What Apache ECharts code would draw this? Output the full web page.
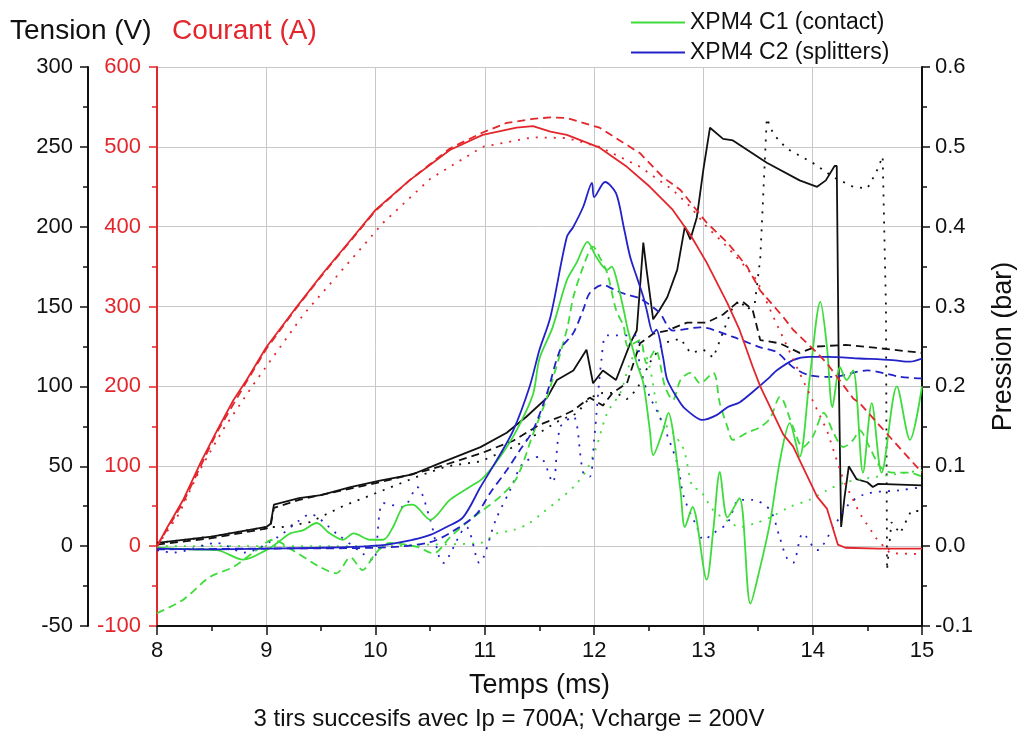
<!DOCTYPE html>
<html>
<head>
<meta charset="utf-8">
<script src="https://cdn.jsdelivr.net/npm/echarts@6/dist/echarts.min.js"></script>
<style>
  html, body { margin: 0; padding: 0; background: #fff; }
  #chart { width: 1018px; height: 738px; }
</style>
</head>
<body>
<div id="chart"></div>
<script>
// courant (A)
const courant1 = [[8,0],[8.1,25],[8.24,58],[8.4,105],[8.55,145],[8.7,183],[8.82,208],[9.0,249],[9.28,300],[9.52,342],[9.77,383],[10.0,421],[10.31,458],[10.68,496],[10.98,515],[11.29,524],[11.44,526],[11.6,519],[11.75,515],[12.05,499],[12.3,475],[12.51,450],[12.72,421],[12.88,390],[13.03,355],[13.22,304],[13.33,271],[13.45,225],[13.52,200],[13.73,140],[13.82,125],[14.04,62],[14.13,47],[14.23,2],[14.3,-2],[14.6,-3],[15,-3]];
const courant2 = [[8,0],[8.24,55],[8.55,143],[8.82,206],[9.0,247],[9.28,299],[9.52,341],[9.77,382],[10.0,420],[10.31,458],[10.68,498],[10.98,518],[11.2,530],[11.44,535],[11.6,537],[11.75,536],[12.05,524],[12.42,492],[12.63,462],[12.79,446],[13.03,405],[13.22,380],[13.4,350],[13.52,320],[13.73,287],[13.82,271],[14.04,242],[14.13,229],[14.37,185],[14.43,179],[14.73,133],[15,92]];
const courant3 = [[8,0],[8.2,40],[8.39,95],[8.6,145],[8.88,202],[9.34,290],[10.07,405],[10.5,460],[10.98,500],[11.44,512],[11.75,511],[12.05,500],[12.42,475],[12.72,446],[12.88,425],[13.03,400],[13.18,380],[13.33,358],[13.49,333],[13.64,287],[13.91,208],[14.13,145],[14.28,83],[14.43,41],[14.59,8],[14.71,-9],[15,-10]];

// tension (V)
const tension1 = [[8,2],[8.5,6],[9.0,12],[9.04,14],[9.07,26],[9.3,30],[9.5,32],[9.77,37],[10.04,41],[10.34,45],[10.59,52],[10.96,62],[11.2,71],[11.38,81],[11.57,93],[11.66,104],[11.81,110],[11.93,123],[11.99,102],[12.08,110],[12.2,104],[12.33,127],[12.39,135],[12.45,190],[12.48,173],[12.54,142],[12.6,148],[12.67,156],[12.76,173],[12.83,200],[12.88,192],[12.94,206],[13.0,236],[13.06,262],[13.18,255],[13.27,254],[13.58,240],[13.88,229],[14.04,225],[14.12,229],[14.2,238],[14.22,238],[14.24,100],[14.26,12],[14.29,30],[14.33,50],[14.4,42],[14.5,40],[14.55,37],[14.6,39],[15,38]];
const tension2 = [[8,1],[8.5,5],[9.0,11],[9.04,13],[9.07,24],[9.3,29],[9.77,36],[10.04,40],[10.5,48],[10.96,58],[11.26,66],[11.5,76],[11.69,81],[11.81,85],[11.96,93],[12.08,88],[12.17,96],[12.3,102],[12.42,127],[12.54,133],[12.67,135],[12.85,140],[13.03,140],[13.18,145],[13.3,152],[13.36,153],[13.45,148],[13.52,129],[13.7,127],[13.88,121],[14.04,125],[14.3,126],[14.6,124],[15,121]];
const tension3 = [[8,2],[8.5,6],[9.0,12],[9.15,12],[9.4,15],[9.7,25],[10.07,35],[10.4,44],[10.65,50],[10.96,53],[11.26,62],[11.5,71],[11.69,79],[11.84,83],[11.96,93],[12.08,96],[12.2,96],[12.3,92],[12.39,98],[12.51,115],[12.63,127],[12.79,130],[12.88,121],[13.0,123],[13.09,118],[13.27,150],[13.33,154],[13.4,148],[13.47,152],[13.52,180],[13.58,268],[13.64,258],[13.76,249],[14.0,240],[14.19,231],[14.37,225],[14.5,224],[14.58,234],[14.64,244],[14.67,150],[14.68,-15],[14.72,15],[14.8,8],[14.9,22],[15,22]];

// pression C1 (bar)
const c1Tir1 = [[8,-0.002],[8.3,-0.004],[8.55,-0.005],[8.79,-0.017],[9.0,-0.005],[9.1,0.004],[9.22,0.016],[9.34,0.02],[9.46,0.029],[9.58,0.016],[9.7,0.008],[9.8,0.016],[9.95,0.008],[10.07,0.008],[10.16,0.024],[10.25,0.049],[10.34,0.052],[10.5,0.033],[10.68,0.058],[10.86,0.074],[10.98,0.085],[11.14,0.112],[11.29,0.145],[11.44,0.19],[11.5,0.235],[11.62,0.274],[11.75,0.333],[11.84,0.355],[11.94,0.381],[12.02,0.362],[12.12,0.346],[12.16,0.35],[12.2,0.337],[12.27,0.296],[12.31,0.27],[12.39,0.229],[12.45,0.204],[12.51,0.145],[12.54,0.114],[12.63,0.145],[12.68,0.167],[12.72,0.145],[12.79,0.07],[12.83,0.024],[12.9,0.049],[13.03,-0.042],[13.09,0.02],[13.15,0.093],[13.22,0.036],[13.33,0.06],[13.43,-0.072],[13.52,-0.026],[13.61,0.03],[13.7,0.107],[13.79,0.154],[13.88,0.112],[13.97,0.208],[14.07,0.306],[14.13,0.25],[14.18,0.174],[14.25,0.224],[14.31,0.208],[14.37,0.22],[14.46,0.092],[14.54,0.179],[14.63,0.092],[14.77,0.2],[14.89,0.133],[15,0.2]];
const c1Tir2 = [[8,-0.084],[8.24,-0.067],[8.48,-0.039],[8.7,-0.026],[8.91,-0.005],[9.06,0.008],[9.24,-0.005],[9.49,-0.026],[9.64,-0.034],[9.77,-0.014],[9.88,-0.03],[10.0,-0.009],[10.13,0.004],[10.38,-0.001],[10.53,-0.009],[10.68,0.011],[10.83,0.029],[10.98,0.045],[11.14,0.062],[11.29,0.085],[11.44,0.14],[11.57,0.187],[11.75,0.271],[11.81,0.312],[11.9,0.35],[11.99,0.375],[12.05,0.362],[12.12,0.342],[12.2,0.296],[12.27,0.275],[12.31,0.25],[12.42,0.258],[12.48,0.229],[12.56,0.246],[12.65,0.199],[12.72,0.183],[12.79,0.208],[12.88,0.217],[12.97,0.204],[13.09,0.217],[13.15,0.179],[13.22,0.149],[13.27,0.133],[13.4,0.142],[13.52,0.149],[13.61,0.16],[13.7,0.187],[13.82,0.149],[13.91,0.124],[14.0,0.137],[14.1,0.167],[14.19,0.142],[14.28,0.124],[14.37,0.133],[14.43,0.145],[14.52,0.124],[14.62,0.099],[14.73,0.092],[14.89,0.092],[15,0.087]];
const c1Tir3 = [[8,0],[8.5,0],[9,0],[9.5,0],[10,0],[10.5,0.002],[10.96,0.004],[11.11,0.016],[11.26,0.02],[11.41,0.029],[11.53,0.042],[11.66,0.056],[11.81,0.074],[11.93,0.095],[12.02,0.124],[12.12,0.167],[12.24,0.192],[12.33,0.23],[12.42,0.249],[12.5,0.229],[12.6,0.162],[12.72,0.142],[12.82,0.121],[12.9,0.074],[12.97,0.07],[13.09,0.045],[13.24,0.03],[13.33,0.024],[13.48,0.029],[13.61,0.036],[13.79,0.049],[13.97,0.058],[14.13,0.07],[14.3,0.08],[14.5,0.085],[14.75,0.09],[15,0.095]];

// pression C2 (bar)
const c2Tir1 = [[8,-0.003],[8.5,-0.004],[9,-0.003],[9.5,-0.002],[10.04,0.001],[10.34,0.008],[10.5,0.014],[10.65,0.024],[10.8,0.036],[10.96,0.074],[11.11,0.108],[11.26,0.145],[11.41,0.2],[11.5,0.246],[11.6,0.287],[11.75,0.387],[11.81,0.4],[11.9,0.425],[11.98,0.455],[12.0,0.437],[12.1,0.456],[12.2,0.442],[12.27,0.4],[12.33,0.362],[12.39,0.337],[12.45,0.312],[12.48,0.296],[12.54,0.267],[12.57,0.271],[12.63,0.237],[12.67,0.208],[12.79,0.179],[12.85,0.17],[12.99,0.158],[13.12,0.164],[13.22,0.174],[13.33,0.18],[13.45,0.193],[13.61,0.212],[13.67,0.22],[13.82,0.233],[13.97,0.237],[14.13,0.237],[14.43,0.235],[14.73,0.233],[14.89,0.231],[15,0.235]];
const c2Tir2 = [[8,-0.004],[9,-0.003],[10,-0.002],[10.5,0.005],[10.77,0.024],[10.93,0.041],[11.05,0.067],[11.2,0.095],[11.32,0.12],[11.44,0.145],[11.57,0.192],[11.69,0.246],[11.81,0.267],[11.9,0.296],[11.96,0.317],[12.08,0.327],[12.2,0.32],[12.3,0.315],[12.42,0.31],[12.6,0.292],[12.72,0.27],[12.97,0.274],[13.27,0.262],[13.52,0.249],[13.67,0.243],[13.82,0.224],[13.97,0.214],[14.18,0.212],[14.5,0.22],[14.8,0.212],[15,0.21]];
const c2Tir3 = [[8,-0.005],[8.15,-0.008],[8.55,0.004],[8.8,-0.008],[9.1,0.011],[9.3,0.032],[9.4,0.04],[9.64,0.016],[9.88,-0.009],[9.98,-0.018],[10.07,0.054],[10.25,0.049],[10.38,0.074],[10.5,0.033],[10.62,-0.021],[10.83,0.024],[10.95,-0.021],[11.1,0.033],[11.23,0.07],[11.35,0.104],[11.5,0.112],[11.62,0.08],[11.69,0.149],[11.81,0.162],[11.9,0.092],[11.96,0.087],[12.0,0.133],[12.07,0.237],[12.12,0.264],[12.39,0.264],[12.42,0.22],[12.51,0.187],[12.6,0.162],[12.76,0.104],[12.82,0.062],[12.94,0.024],[13.0,0.008],[13.09,0.016],[13.22,0.029],[13.33,0.058],[13.45,0.058],[13.61,0.045],[13.7,0.01],[13.76,-0.014],[13.82,-0.021],[13.91,0.016],[14.04,-0.005],[14.19,0.024],[14.34,0.054],[14.5,0.066],[14.8,0.07],[15,0.074]];

const RED = '#e3262c', BLACK = '#111111', GREEN = '#3ddc3a', BLUE = '#2222c8';
const FONT = 'Liberation Sans';
const DASH = [8, 5], DOT = [2, 7];

function line(name, data, color, type, yAxisIndex, smooth) {
  return {
    name: name, type: 'line', data: data, yAxisIndex: yAxisIndex,
    symbol: 'none', animation: false, z: yAxisIndex === 1 ? 3 : 2,
    smooth: smooth || false,
    itemStyle: { color: color },
    lineStyle: { color: color, width: 1.8, type: type }
  };
}

const chart = echarts.init(document.getElementById('chart'));
const option = {
  backgroundColor: '#fff',
  animation: false,
  textStyle: { fontFamily: FONT },
  grid: { left: 157, right: 96, top: 67, bottom: 112, outerBoundsMode: 'none' },
  legend: {
    data: ['XPM4 C1 (contact)', 'XPM4 C2 (splitters)'],
    orient: 'vertical', left: 625, top: 6, itemWidth: 54, itemHeight: 14, itemGap: 7,
    itemStyle: { opacity: 0 },
    textStyle: { fontFamily: FONT, fontSize: 23, color: '#111' }
  },
  xAxis: {
    type: 'value', min: 8, max: 15, interval: 1,
    name: 'Temps (ms)', nameLocation: 'middle', nameGap: 46,
    nameTextStyle: { fontFamily: FONT, fontSize: 27, color: '#111' },
    axisLine: { onZero: false, lineStyle: { color: BLACK, width: 2 } },
    axisTick: { length: 9, lineStyle: { color: BLACK, width: 1.5 } },
    minorTick: { show: true, splitNumber: 2, length: 5, lineStyle: { color: BLACK, width: 1.5 } },
    axisLabel: { fontSize: 22, color: '#111', margin: 14 },
    splitLine: { show: true, lineStyle: { color: '#c8c8c8', width: 1 } }
  },
  yAxis: [
    {
      type: 'value', min: -50, max: 300, interval: 50, position: 'left', offset: 69,
      axisLine: { show: true, lineStyle: { color: BLACK, width: 2 } },
      axisTick: { show: true, length: 8, lineStyle: { color: BLACK, width: 1.5 } },
      minorTick: { show: true, splitNumber: 2, length: 5, lineStyle: { color: BLACK, width: 1.5 } },
      axisLabel: { fontSize: 22, color: '#111', margin: 15 },
      splitLine: { show: true, lineStyle: { color: '#c8c8c8', width: 1 } }
    },
    {
      type: 'value', min: -100, max: 600, interval: 100, position: 'left', offset: 0,
      axisLine: { show: true, lineStyle: { color: RED, width: 2 } },
      axisTick: { show: true, length: 8, lineStyle: { color: RED, width: 1.5 } },
      minorTick: { show: true, splitNumber: 2, length: 5, lineStyle: { color: RED, width: 1.5 } },
      axisLabel: { fontSize: 22, color: RED, margin: 16 },
      splitLine: { show: false }
    },
    {
      type: 'value', min: -0.1, max: 0.6, interval: 0.1, position: 'right',
      name: 'Pression (bar)', nameLocation: 'middle', nameGap: 68, nameRotate: 90,
      nameTextStyle: { fontFamily: FONT, fontSize: 27, color: '#111' },
      axisLine: { show: true, lineStyle: { color: BLACK, width: 2 } },
      axisTick: { show: true, length: 8, lineStyle: { color: BLACK, width: 1.5 } },
      minorTick: { show: true, splitNumber: 2, length: 5, lineStyle: { color: BLACK, width: 1.5 } },
      axisLabel: { fontSize: 22, color: '#111', margin: 13, formatter: v => v.toFixed(1) },
      splitLine: { show: false }
    }
  ],
  graphic: [
    { type: 'text', left: 10, top: 17, style: { text: 'Tension (V)', font: '28px "Liberation Sans"', fill: '#111' } },
    { type: 'text', left: 172, top: 17, style: { text: 'Courant (A)', font: '28px "Liberation Sans"', fill: RED } },
    { type: 'text', left: 'center', top: 707, style: { text: '3 tirs succesifs avec Ip = 700A; Vcharge = 200V', font: '24px "Liberation Sans"', fill: '#111' } }
  ],
  series: [
    line('tension tir 3', tension3, BLACK, DOT, 0),
    line('tension tir 2', tension2, BLACK, DASH, 0),
    line('tension tir 1', tension1, BLACK, 'solid', 0),
    line('C1 tir 3', c1Tir3, GREEN, DOT, 2, 0.3),
    line('C2 tir 3', c2Tir3, BLUE, DOT, 2, 0.3),
    line('C1 tir 2', c1Tir2, GREEN, DASH, 2, 0.3),
    line('C2 tir 2', c2Tir2, BLUE, DASH, 2, 0.3),
    line('XPM4 C1 (contact)', c1Tir1, GREEN, 'solid', 2, 0.3),
    line('XPM4 C2 (splitters)', c2Tir1, BLUE, 'solid', 2, 0.3),
    line('courant tir 3', courant3, RED, DOT, 1),
    line('courant tir 2', courant2, RED, DASH, 1),
    line('courant tir 1', courant1, RED, 'solid', 1)
  ]
};
chart.setOption(option);
</script>
</body>
</html>
